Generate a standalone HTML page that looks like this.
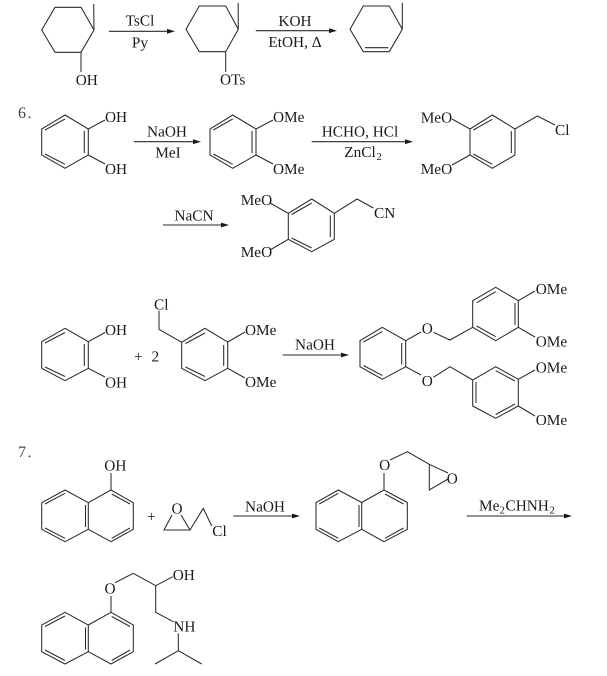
<!DOCTYPE html>
<html><head><meta charset="utf-8"><style>
html,body{margin:0;padding:0;background:#fff}
svg{display:block}
text{font-family:"Liberation Serif",serif;font-size:15.3px;fill:#1a1a1a;text-rendering:geometricPrecision}
.c{text-anchor:middle}
path{fill:none;stroke:#2a2a2a;stroke-width:1.05}
polygon{fill:#1a1a1a;stroke:none}
</style></head><body>
<svg width="607" height="676" viewBox="0 0 607 676" xmlns="http://www.w3.org/2000/svg">
<!-- Row 1 -->
<path d="M55 7.3H81L94 30 81 52.3H55L41.7 30ZM94 30L93.7 4M81 52.3V72"/>
<text x="75.7" y="85">OH</text>
<path d="M109 31.3H170"/><polygon points="175,31.3 167,28.9 167,33.7"/>
<text class="c" x="140" y="25.7">TsCl</text><text class="c" x="140" y="47.7">Py</text>
<path d="M199.3 6H225.7L238.3 29.3 225.7 51.7H199.3L186 29.3ZM238.3 29.3L238.2 3M225.7 51.7V72"/>
<text x="220" y="84.3">OTs</text>
<path d="M255.8 30.7H332"/><polygon points="337,30.7 329,28.3 329,33.1"/>
<text class="c" x="295" y="26">KOH</text><text class="c" x="295" y="47">EtOH, Δ</text>
<path d="M363.3 6H389.3L402.3 29.3 389.3 51.7H363.3L350 29.3ZM402.3 29.3L402.3 2.7M365 47.7H388.3"/>

<!-- 6 -->
<text x="18" y="118" style="font-size:16px;fill:#444">6</text><text x="27.5" y="118" style="font-size:16px;fill:#444">.</text>
<path d="M65 115L88.3 129V155L65 168.3 41.7 155V129ZM45 130L65 119M84.3 131V153M45 154L65 164.3M88.3 129L105 120M88.3 155L105 164"/>
<text x="105" y="122">OH</text><text x="105" y="174">OH</text>
<path d="M134 141.7H196"/><polygon points="201,141.7 193,139.3 193,144.1"/>
<text class="c" x="167" y="136.7">NaOH</text><text class="c" x="168" y="157.3">MeI</text>
<path d="M232.7 115L256 129V155L232.7 168.3 210 155V129ZM213.3 130L232.7 119M252 131V153M213.3 154L232.7 164.3M256 129L273 120M256 155L273 164"/>
<text x="273" y="122">OMe</text><text x="273" y="174">OMe</text>
<path d="M311.7 141.7H408"/><polygon points="413,141.7 405,139.3 405,144.1"/>
<text class="c" x="360" y="136.7">HCHO, HCl</text>
<text x="344.3" y="157">ZnCl</text><text x="376.5" y="160" style="font-size:10.5px">2</text>
<path d="M492.3 115L515 129V155L492.3 168.3 470 155V129ZM473.3 130L492.3 119.3M511.3 131V153M473.3 154L492.3 164.3M515 129L537.4 116 555 125M470 129L452 119M470 155L452 165"/>
<text x="420.7" y="122.7">MeO</text><text x="420.7" y="174">MeO</text><text x="555" y="135">Cl</text>
<path d="M163 225H224"/><polygon points="229,225 221,222.6 221,227.4"/>
<text class="c" x="194" y="220.7">NaCN</text>
<path d="M311.7 199L334.3 213.3V239.3L311.7 251.7 288.3 239.3V213.3ZM291.6 214.5L311.7 203M330.3 215.5V237M291.6 238L311.7 248M288.3 213.3L270 203M288.3 239.3L270 250M334.3 213.3L357 199 373.5 208"/>
<text x="240.7" y="205">MeO</text><text x="240.7" y="257">MeO</text><text x="374" y="218">CN</text>

<!-- Row 3 -->
<path d="M65 328.3L88.3 341.7V368.3L65 380.7 41.7 368.3V341.7ZM45 343L65 332.5M84.3 344V366M45 367L65 376.5M88.3 341.7L105 332.5M88.3 368.3L105 377"/>
<text x="105" y="335">OH</text><text x="105" y="387.3">OH</text>
<text x="134" y="361.7">+</text><text x="151.5" y="361.7">2</text>
<text x="154" y="309.3">Cl</text>
<path d="M159 310.7V329.3L181.7 342.3M205 328.3L227.7 342V368.3L205 380.7 181.7 368.3V342.3ZM185.5 343.5L205 333M223.7 345V366M185.5 367L205 376.5M227.7 342L245 332M227.7 368.3L245 378"/>
<text x="245" y="335">OMe</text><text x="245" y="387">OMe</text>
<path d="M282.7 355H344"/><polygon points="349,355 341,352.6 341,357.4"/>
<text class="c" x="315" y="349.3">NaOH</text>
<path d="M382.3 327.3L405.7 340.7V366.7L382.3 379.3 360 366.7V340.7ZM363.5 342L382.3 331.5M401.7 343V364.5M363.5 365.5L382.3 375.5M405.7 340.7L421 332M405.7 366.7L421 375"/>
<text class="c" x="427.3" y="333.3">O</text><text class="c" x="427.3" y="386">O</text>
<path d="M433.3 332.3L450 340 472.7 327.3M433.3 377.3L450 366.7 472.7 380"/>
<path d="M495.7 287.3L518.3 300.7V327.3L495.7 340.7 472.7 327.3V300.7ZM476.7 302.7L495.7 291.7M515 303V325M476.7 326L495.7 336.7M518.3 300.7L535 291M518.3 327.3L535 337"/>
<text x="535.7" y="294">OMe</text><text x="535.7" y="346.7">OMe</text>
<path d="M495.7 366.7L518.3 379.3V406L495.7 418.3 472.7 406V380ZM495.7 370.7L515 381M476 382V403M495.7 414.5L515 404M518.3 379.3L535 370M518.3 406L535 416"/>
<text x="535.7" y="372.7">OMe</text><text x="535.7" y="425">OMe</text>

<!-- 7 -->
<text x="18" y="457" style="font-size:16px;fill:#444">7</text><text x="27.5" y="457" style="font-size:16px;fill:#444">.</text>
<path d="M65 490L88.3 502.7V529.3L65 541.7 41.7 529.3V502.7ZM88.3 502.7L111 490 133.3 502.7V529.3L111 541.7 88.3 529.3M45 504L65 493.3M45 528L65 538.3M85.5 505V527M111.7 494L130 504M111.7 538.3L130 528M111 490V473"/>
<text x="104.3" y="470.7">OH</text>
<text x="147" y="521.7">+</text>
<text class="c" x="177" y="513.3">O</text>
<path d="M172 515L164 530H190L181 515M190 530L203.3 508.3 211.7 526"/>
<text x="212.3" y="536">Cl</text>
<path d="M233.3 516H295"/><polygon points="300,516 292,513.6 292,518.4"/>
<text class="c" x="265" y="511.7">NaOH</text>
<path d="M338.3 490L361.7 502.5V529.3L338.3 541.7 316 529.3V502.5ZM361.7 502.5L384 490 407.3 502.5V529.3L384 541.7 361.7 529.3M319.3 504L338.3 493.3M319.3 528L338.3 538.3M359 505V527M385 494L403.5 504M385 538.3L403.5 528M384 490V473M390 460L407.3 451.7 429.3 464.3M448 473L429.3 464.3V490L448 479"/>
<text class="c" x="384.7" y="470">O</text><text class="c" x="452.3" y="483.3">O</text>
<path d="M466.7 516H567"/><polygon points="572,516 564,513.6 564,518.4"/>
<text x="479" y="510.7">Me</text><text x="499.6" y="513.5" style="font-size:10.5px">2</text><text x="505.5" y="510.7">CHNH</text><text x="549.5" y="513.5" style="font-size:10.5px">2</text>

<path d="M65 612.3L88.3 625V651.7L65 664 41.7 651.7V625ZM88.3 625L111 612.3 133.3 625V651.7L111 664 88.3 651.7M45 626.5L65 616M45 650L65 660.5M85.5 627.5V649.5M111.7 616.5L130 626.5M111.7 660.5L130 650M111 612.3V596"/>
<text class="c" x="110" y="593.3">O</text>
<path d="M115 582.7L133.3 573.3 155.7 585.7 172.7 576.7M155.7 585.7V612.3L173.3 621.7M178.3 633.3V650.7M155 664L178.3 650.7 201.7 664"/>
<text x="172.7" y="580">OH</text><text x="173.3" y="631.7">NH</text>
</svg>
</body></html>
